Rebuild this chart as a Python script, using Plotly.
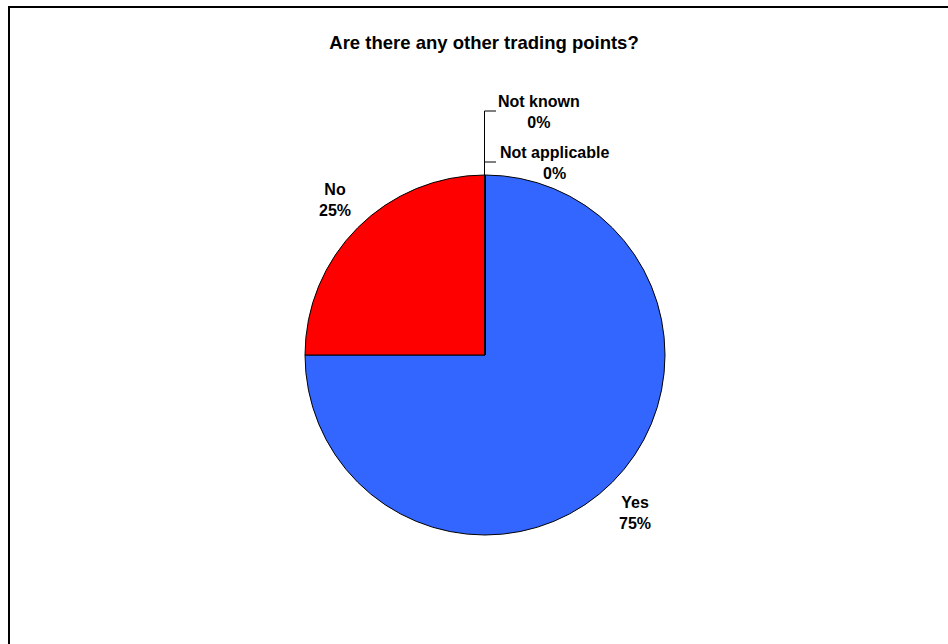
import plotly.graph_objects as go

# ---- data ----
labels = ["Yes", "No", "Not applicable", "Not known"]
values = [75, 25, 0, 0]
colors = ["#3366FF", "#FF0000", "#FFFF99", "#99CCFF"]
title_text = "Are there any other trading points?"

W, H = 948, 644


def px(x):
    return x / W


def py(y):
    return 1 - y / H


total = sum(values)
pcts = [round(100 * v / total) for v in values]

# label positions (pixels, centre of the text block)
label_pos = {
    "Yes": (635, 513),
    "No": (335, 200),
    "Not applicable": (554, 163),
    "Not known": (539, 112),
}

fig = go.Figure()
fig.add_trace(go.Pie(
    labels=labels,
    values=values,
    sort=False,
    direction="clockwise",
    rotation=0,
    marker=dict(colors=colors, line=dict(color="#000000", width=1)),
    textinfo="none",
    hoverinfo="label+percent",
    showlegend=False,
    domain=dict(x=[px(305), px(665)], y=[py(535), py(175)]),
))

annotations = []
for lab, pct in zip(labels, pcts):
    cx, cy = label_pos[lab]
    annotations.append(dict(
        x=px(cx), y=py(cy), xref="paper", yref="paper",
        text=f"<b>{lab}<br>{pct}%</b>", showarrow=False,
        xanchor="center", yanchor="middle", align="center",
        font=dict(family="Liberation Sans, Arial, sans-serif", size=16, color="#000000"),
    ))

shapes = [
    # chart frame
    dict(type="rect", xref="paper", yref="paper",
         x0=px(9), y0=py(700), x1=px(1000), y1=py(7),
         line=dict(color="#000000", width=2), fillcolor="rgba(0,0,0,0)"),
    # leader lines for zero slices
    dict(type="line", xref="paper", yref="paper",
         x0=px(484.5), y0=py(176), x1=px(484.5), y1=py(111),
         line=dict(color="#000000", width=1)),
    dict(type="line", xref="paper", yref="paper",
         x0=px(484.5), y0=py(111), x1=px(496), y1=py(111),
         line=dict(color="#000000", width=1)),
    dict(type="line", xref="paper", yref="paper",
         x0=px(484.5), y0=py(162), x1=px(496), y1=py(162),
         line=dict(color="#000000", width=1)),
]

fig.update_layout(
    width=W, height=H,
    margin=dict(l=0, r=0, t=0, b=0),
    paper_bgcolor="#FFFFFF",
    plot_bgcolor="#FFFFFF",
    title=dict(
        text=f"<b>{title_text}</b>",
        x=px(484), xanchor="center",
        y=py(43), yanchor="middle",
        font=dict(family="Liberation Sans, Arial, sans-serif", size=18.5, color="#000000"),
    ),
    annotations=annotations,
    shapes=shapes,
)

fig.write_html(
    "out.html",
    config={"displayModeBar": False},
    post_script="document.body.style.margin='0';document.body.style.overflow='hidden';",
)
